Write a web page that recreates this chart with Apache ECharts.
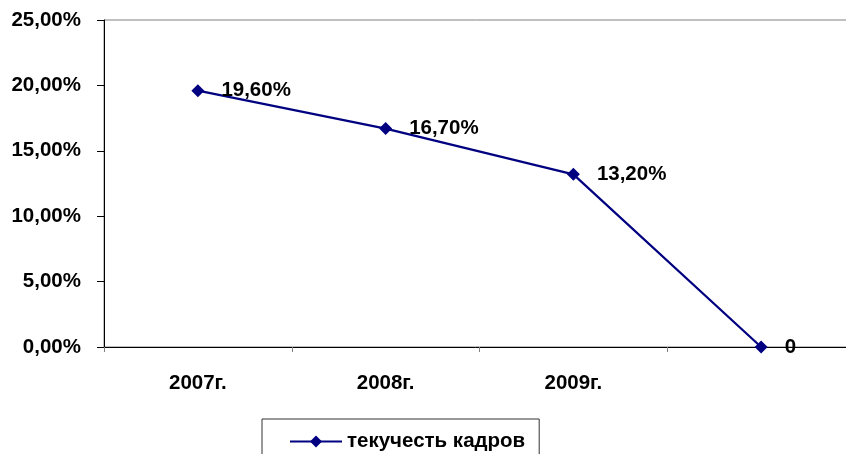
<!DOCTYPE html>
<html>
<head>
<meta charset="utf-8">
<script src="https://cdn.jsdelivr.net/npm/echarts@6/dist/echarts.min.js"></script>
<style>html,body{margin:0;padding:0;background:#fff;}#c{width:846px;height:454px;}</style>
</head>
<body>
<div id="c"></div>
<script>
var categories = ['2007г.', '2008г.', '2009г.', ''];
var values = [0.196, 0.167, 0.132, 0];
var pointLabels = ['19,60%', '16,70%', '13,20%', '0'];
var seriesName = 'текучесть кадров';
var yTicks = {min: 0, max: 0.25, interval: 0.05};

var font = '"Liberation Sans", Arial, sans-serif';
var fs = 20.5;
var chart = echarts.init(document.getElementById('c'), null, {renderer: 'canvas'});
chart.setOption({
  animation: false,
  backgroundColor: '#fff',
  grid: {left: 104, width: 751, top: 20, height: 327, containLabel: false, outerBoundsMode: 'none',
         show: true, borderColor: '#808080', borderWidth: 1, backgroundColor: 'transparent'},
  legend: {
    show: true,
    left: 262, top: 419,
    orient: 'horizontal',
    padding: [12, 14, 12, 27],
    borderColor: '#333', borderWidth: 1,
    itemWidth: 52, itemHeight: 15,
    textStyle: {fontFamily: font, fontWeight: 'bold', fontSize: fs, color: '#000'},
    data: [seriesName]
  },
  xAxis: {
    type: 'category',
    data: categories,
    boundaryGap: true,
    axisLine: {lineStyle: {color: '#000', width: 1}},
    axisTick: {show: true, length: 5, inside: false, lineStyle: {color: '#808080'}},
    axisLabel: {margin: 26, fontFamily: font, fontWeight: 'bold', fontSize: fs, color: '#000'},
    splitLine: {show: false}
  },
  yAxis: {
    type: 'value',
    min: yTicks.min, max: yTicks.max, interval: yTicks.interval,
    axisLine: {show: true, lineStyle: {color: '#000', width: 1}},
    axisTick: {show: true, length: 7, lineStyle: {color: '#000'}},
    axisLabel: {
      margin: 23, fontFamily: font, fontWeight: 'bold', fontSize: fs, color: '#000',
      formatter: function (v) { return (v * 100).toFixed(2).replace('.', ',') + '%'; }
    },
    splitLine: {show: false}
  },
  series: [{
    name: seriesName,
    type: 'line',
    data: values,
    symbol: 'diamond',
    symbolSize: 13,
    itemStyle: {color: '#000080'},
    lineStyle: {color: '#000080', width: 2.2},
    label: {
      show: true, position: 'right', distance: 17,
      fontFamily: font, fontWeight: 'bold', fontSize: fs, color: '#000',
      formatter: function (p) { return pointLabels[p.dataIndex]; }
    }
  }]
});
</script>
</body>
</html>
